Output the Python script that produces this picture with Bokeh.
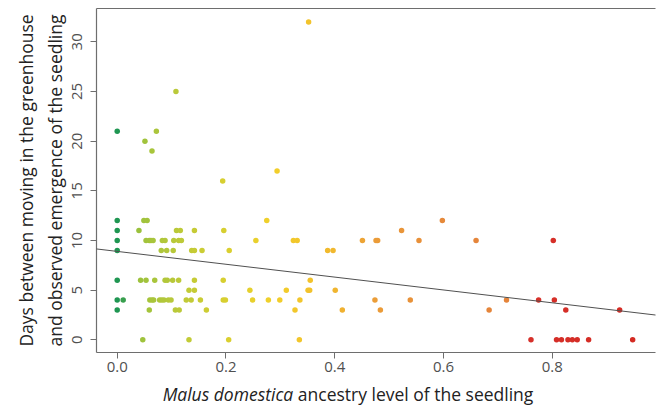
import numpy as np
from bokeh.plotting import figure
from bokeh.layouts import column
from bokeh.models import (ColumnDataSource, LinearColorMapper, FixedTicker, LinearAxis,
                          Slope, Title, Range1d, Div)
from bokeh.transform import transform
from bokeh.embed import file_html
from bokeh.resources import INLINE

# ---- data ----
ancestry = [
    0.352,
    0.108,
    0.0, 0.072,
    0.051,
    0.064,
    0.294,
    0.194,
    0.0, 0.049, 0.055, 0.275, 0.598,
    0.0, 0.040, 0.109, 0.116, 0.142, 0.196, 0.523,
    0.0, 0.053, 0.059, 0.062, 0.066, 0.083, 0.088, 0.104, 0.113, 0.118, 0.255, 0.324, 0.331,
    0.451, 0.476, 0.479, 0.555, 0.660, 0.802,
    0.0, 0.081, 0.091, 0.103, 0.137, 0.142, 0.156, 0.206, 0.387, 0.397,
    0.0, 0.043, 0.053, 0.069, 0.088, 0.092, 0.102, 0.113, 0.142, 0.195, 0.355,
    0.132, 0.142, 0.244, 0.311, 0.351, 0.354, 0.401,
    0.0, 0.011, 0.060, 0.064, 0.067, 0.078, 0.082, 0.086, 0.094, 0.099, 0.127, 0.136, 0.153,
    0.195, 0.199, 0.249, 0.278, 0.299, 0.336, 0.474, 0.539, 0.716, 0.775, 0.804,
    0.0, 0.059, 0.107, 0.114, 0.164, 0.327, 0.414, 0.484, 0.684, 0.825, 0.924,
    0.047, 0.132, 0.205, 0.335, 0.761, 0.808, 0.817, 0.829, 0.837, 0.846, 0.867, 0.948,
]
days = (
    [32] + [25] + [21] * 2 + [20] + [19] + [17] + [16]
    + [12] * 5
    + [11] * 7
    + [10] * 19
    + [9] * 10
    + [6] * 11
    + [5] * 7
    + [4] * 24
    + [3] * 11
    + [0] * 12
)
fit_intercept = 8.9
fit_slope = -6.47

x_ticks = [0.0, 0.2, 0.4, 0.6, 0.8]
x_tick_labels = ["0.0", "0.2", "0.4", "0.6", "0.8"]
y_ticks = [0, 5, 10, 15, 20, 25, 30]
y_tick_labels = ["0", "5", "10", "15", "20", "25", "30"]

x_title_italic = "Malus domestica"
x_title_rest = " ancestry level of the seedling"
y_title_lines = ["Days between moving in the greenhouse",
                 "and observed emergence of the seedling"]

# ---- colour gradient (green -> yellow -> orange -> red) ----
stops = [(0.00, "#1f9652"), (0.04, "#9cc23c"), (0.10, "#b6c83a"), (0.20, "#d6cf30"),
         (0.30, "#f2d02a"), (0.40, "#f2bd2c"), (0.50, "#eb9c38"), (0.65, "#e5863a"),
         (0.785, "#e5843a"), (0.80, "#d6302a"), (1.00, "#d42a22")]
def hex2rgb(h):
    return np.array([int(h[i:i + 2], 16) for i in (1, 3, 5)], float)
palette = []
for t in np.linspace(0, 1, 256):
    for (a, ca), (b, cb) in zip(stops[:-1], stops[1:]):
        if a <= t <= b:
            f = (t - a) / (b - a) if b > a else 0
            c = hex2rgb(ca) * (1 - f) + hex2rgb(cb) * f
            palette.append("#%02x%02x%02x" % tuple(int(round(v)) for v in c))
            break
mapper = LinearColorMapper(palette=palette, low=0.0, high=0.95)

src = ColumnDataSource(dict(x=ancestry, y=days))

FONT = "Open Sans"
p = figure(width=656, height=384, output_backend="svg", toolbar_location=None,
           x_range=Range1d(-0.0381, 0.990), y_range=Range1d(-1.28, 33.36),
           min_border_left=96, min_border_right=1, min_border_top=8, min_border_bottom=32,
           x_axis_location=None, y_axis_location=None)
p.outline_line_color = None
p.grid.visible = False
p.background_fill_color = "white"

p.scatter("x", "y", source=src, size=5.5, line_color=None,
          fill_color=transform("x", mapper))
p.add_layout(Slope(gradient=fit_slope, y_intercept=fit_intercept,
                   line_color="#505050", line_width=1))

axis_col = "#6e6e6e"
xa = LinearAxis(ticker=FixedTicker(ticks=x_ticks),
                major_label_overrides={t: l for t, l in zip(x_ticks, x_tick_labels)})
ya = LinearAxis(ticker=FixedTicker(ticks=y_ticks),
                major_label_overrides={t: l for t, l in zip(y_ticks, y_tick_labels)})
for a in (xa, ya):
    a.axis_line_color = axis_col
    a.axis_line_width = 1.2
    a.major_tick_line_color = axis_col
    a.major_tick_out = 6
    a.major_tick_in = 0
    a.minor_tick_line_color = None
    a.major_label_text_font = FONT
    a.major_label_text_font_size = "15px"
    a.major_label_text_color = "#505050"
ya.major_label_orientation = "vertical"
ya.major_label_standoff = 8
xa.major_label_standoff = 3
p.add_layout(xa, "below")
p.add_layout(ya, "left")

top = LinearAxis(ticker=FixedTicker(ticks=[]), axis_line_color=axis_col, axis_line_width=1.2,
                 major_tick_line_color=None, minor_tick_line_color=None,
                 major_label_text_font_size="0px")
p.add_layout(top, "above")

# y axis title (two lines): closest line added first
for i, txt in enumerate(reversed(y_title_lines)):
    t = Title(text=txt, align="center", text_font=FONT, text_font_size="17.5px",
              text_font_style="normal", text_color="#222222", standoff=5 if i == 0 else 2)
    p.add_layout(t, "left")

# x axis title: italic species name + normal text (HTML text below the plot)
xt = Div(
    text=(f'<div style="width:616px;margin-left:40px;text-align:center;'
          f'font-family:\'{FONT}\';font-size:17.5px;line-height:20px;color:#222222;'
          f'white-space:nowrap;">'
          f'<i>{x_title_italic}</i>{x_title_rest}</div>'),
    width=656, height=24, margin=0)

layout = column(p, xt, spacing=0)
open("out.html", "w").write(file_html(layout, INLINE))
